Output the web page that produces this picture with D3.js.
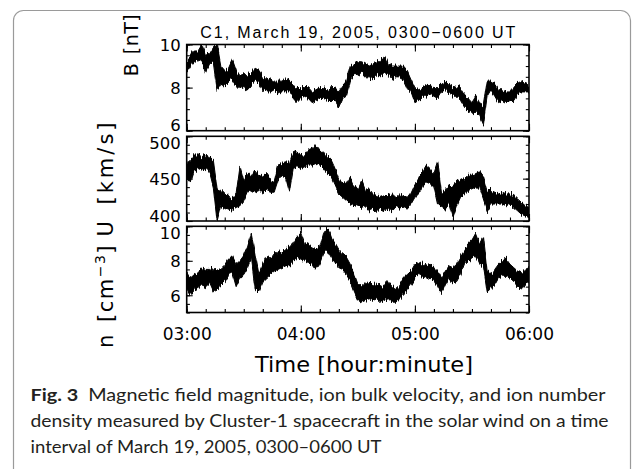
<!DOCTYPE html>
<html>
<head>
<meta charset="utf-8">
<script src="https://cdn.jsdelivr.net/npm/d3@7"></script>
<style>
  html, body { margin: 0; padding: 0; background: #fff; }
  svg { display: block; }
</style>
</head>
<body>
<svg id="chart" width="637" height="469"></svg>
<script>
// Cluster-1 solar wind, 19 March 2005, 03:00-06:00 UT.
// Each series is given as the lower / upper edge of the fluctuation band,
// one pair every 2 minutes from 03:00 to 06:00.
const sampleStepMin = 2;

const hourLabels = ["03:00", "04:00", "05:00", "06:00"];

// |B| [nT]
const bLo = [8.7,9.0,9.2,9.3,9.2,8.7,9.1,9.2,7.9,8.2,8.1,8.3,8.4,8.1,7.9,8.0,7.9,8.1,8.3,8.2,
             7.9,7.8,7.8,7.9,7.7,7.8,7.8,7.8,7.5,7.3,7.5,7.6,7.5,7.3,7.4,7.5,7.5,7.4,7.4,7.4,
             7.1,7.5,7.6,8.3,8.6,8.6,8.7,8.5,8.5,8.4,8.6,8.6,8.7,8.6,8.4,8.5,8.5,8.4,8.0,7.8,
             7.3,7.4,7.6,7.6,7.7,7.6,7.5,7.8,7.9,7.7,7.6,7.6,7.4,7.1,6.9,6.8,6.9,6.7,6.3,7.6,
             7.9,7.6,7.3,7.4,7.3,7.4,7.4,7.7,7.8,7.8,7.8];
const bHi = [9.2,9.5,9.7,9.7,10.0,9.5,9.6,9.9,10.0,9.0,8.8,8.9,9.3,8.8,8.5,8.6,8.6,8.7,8.9,8.8,
             8.5,8.3,8.4,8.3,8.3,8.3,8.4,8.3,8.1,8.0,8.0,8.0,8.0,7.8,7.9,8.0,8.0,7.9,8.0,8.0,
             7.8,8.1,8.3,9.0,9.1,9.2,9.2,9.1,9.0,9.1,9.2,9.2,9.5,9.1,9.0,9.0,9.0,9.0,8.8,8.4,
             8.0,7.9,8.0,8.1,8.1,8.0,8.0,8.2,8.3,8.1,8.0,8.1,8.0,7.7,7.5,7.3,7.6,7.3,7.2,8.3,
             8.3,8.2,7.9,7.9,7.8,7.8,8.0,8.2,8.3,8.2,8.1];

// U [km/s]
const uLo = [452,446,460,462,460,462,458,440,400,418,416,414,413,416,418,424,434,436,434,436,
             432,436,434,434,448,454,452,434,462,464,462,464,466,466,468,466,462,456,452,442,
             432,428,424,420,418,420,416,418,412,414,410,414,412,414,412,416,414,416,414,420,
             428,432,440,446,444,440,420,416,414,420,404,418,428,432,436,438,440,440,426,412,
             420,420,420,420,418,420,416,412,408,406,404];
const uHi = [468,472,478,478,476,478,476,472,438,436,432,428,426,432,465,448,456,452,460,454,
             452,456,450,448,466,468,470,468,482,480,478,478,484,486,490,484,480,476,472,462,
             450,446,444,452,440,438,448,436,438,432,430,428,430,430,432,428,432,430,428,434,
             444,450,458,466,462,456,470,434,436,442,440,446,448,450,454,454,456,458,452,436,
             436,434,432,434,432,432,430,426,422,418,416];

// n [cm^-3]
const nLo = [6.4,6.0,6.3,6.4,6.6,6.5,6.7,6.2,6.3,6.6,6.8,7.2,7.3,6.5,7.0,7.2,7.6,8.2,6.4,6.2,
             6.8,7.0,7.2,7.4,7.5,7.6,7.7,7.7,8.0,8.2,8.1,8.0,7.9,7.8,7.5,7.8,8.4,8.6,8.2,7.9,
             7.6,7.5,7.2,6.8,6.2,5.7,5.6,5.7,5.8,5.7,5.8,5.6,5.7,5.8,5.6,5.6,5.8,6.0,6.3,6.6,
             7.0,7.2,7.1,7.0,7.1,6.9,6.5,6.1,6.6,7.0,6.7,6.8,7.2,7.8,8.0,8.1,8.3,7.8,7.7,6.2,
             6.4,6.6,7.0,7.1,7.1,7.0,6.8,6.5,6.3,6.7,6.8];
const nHi = [7.3,7.0,7.2,7.3,7.6,7.5,7.5,7.6,7.4,7.5,7.7,8.1,8.3,7.8,8.0,8.3,8.8,9.6,8.4,7.2,
             7.8,8.2,8.1,8.4,8.6,8.5,8.7,8.8,9.0,9.4,9.6,9.0,8.9,8.8,8.7,8.8,9.6,9.9,9.4,9.0,
             8.6,8.4,8.2,7.8,7.2,6.6,6.5,6.7,6.8,6.6,6.7,6.5,6.6,6.8,6.5,6.4,6.6,7.0,7.2,7.4,
             7.8,7.9,7.8,7.7,7.8,7.6,7.4,7.0,7.4,7.7,7.6,7.8,8.2,8.6,9.0,9.2,9.6,9.0,9.4,7.4,
             7.2,7.5,7.8,8.0,8.1,7.8,7.6,7.4,7.3,7.5,7.6];

const panels = [
  { lo: bLo, hi: bHi, domain: [6, 10],    major: [6, 8, 10],       minorStep: 0.5,
    top: 44.5,  bottom: 130.7, nudge: { 6: -6.5 } },
  { lo: uLo, hi: uHi, domain: [400, 500], major: [400, 450, 500],  minorStep: 10,
    top: 136.3, bottom: 221,   nudge: { 500: 6.5, 400: -5 } },
  { lo: nLo, hi: nHi, domain: [5, 10],    major: [6, 8, 10],       minorStep: 0.5,
    top: 226.3, bottom: 312.5, nudge: { 10: 6 } }
];

const svg = d3.select("#chart");
const left = 186.7, right = 529;
const ink = "#000";
const tickFont = "DejaVu Sans, sans-serif";

// fine vertical jitter that gives the band its sample-to-sample roughness
const defs = svg.append("defs");
const jitter = defs.append("filter").attr("id", "jitter")
  .attr("x", "-2%").attr("y", "-30%").attr("width", "104%").attr("height", "160%");
jitter.append("feTurbulence")
  .attr("type", "fractalNoise").attr("baseFrequency", "0.8 0.03")
  .attr("numOctaves", 2).attr("seed", 7).attr("result", "noise");
jitter.append("feColorMatrix").attr("in", "noise").attr("type", "matrix")
  .attr("values", "0 0 0 0 0.5  0 1 0 0 0  0 0 0 0 0  0 0 0 0 1")
  .attr("result", "disp");
jitter.append("feDisplacementMap")
  .attr("in", "SourceGraphic").attr("in2", "disp")
  .attr("scale", 9).attr("xChannelSelector", "R").attr("yChannelSelector", "G");

// outer card
svg.append("rect")
  .attr("x", 13.5).attr("y", 10.5)
  .attr("width", 617).attr("height", 480)
  .attr("rx", 10)
  .attr("fill", "#fff").attr("stroke", "#9a9a9a").attr("stroke-width", 1.2);

// time in minutes after 03:00
const x = d3.scaleLinear().domain([0, 180]).range([left, right]);
const minorTimes = d3.range(0, 181, 10);
const hourTimes = [0, 60, 120, 180];

panels.forEach((p, pi) => {
  const y = d3.scaleLinear().domain(p.domain).range([p.bottom, p.top]);
  const g = svg.append("g");
  const data = p.lo.map((v, i) => ({ t: i * sampleStepMin, lo: v, hi: p.hi[i] }));

  defs.append("clipPath").attr("id", "clip" + pi)
    .append("rect").attr("x", left).attr("y", p.top)
    .attr("width", right - left).attr("height", p.bottom - p.top);

  const area = d3.area()
    .x(d => x(d.t)).y0(d => y(d.lo)).y1(d => y(d.hi));

  g.append("g").attr("clip-path", `url(#clip${pi})`)
    .append("path")
    .datum(data)
    .attr("filter", "url(#jitter)")
    .attr("d", area)
    .attr("fill", ink).attr("stroke", ink)
    .attr("stroke-width", 1).attr("stroke-linejoin", "miter");

  const minorVals = d3.range(p.domain[0], p.domain[1] + 1e-9, p.minorStep);

  // y ticks on both sides, pointing inward
  g.append("g").attr("transform", `translate(${left},0)`)
    .call(d3.axisLeft(y).tickValues(minorVals).tickSize(-3.2).tickFormat(""));
  g.append("g").attr("transform", `translate(${right},0)`)
    .call(d3.axisRight(y).tickValues(minorVals).tickSize(-3.2).tickFormat(""));
  const ylab = g.append("g").attr("transform", `translate(${left},0)`)
    .call(d3.axisLeft(y).tickValues(p.major).tickSize(-6).tickPadding(6)
      .tickFormat(d3.format("d")));
  g.append("g").attr("transform", `translate(${right},0)`)
    .call(d3.axisRight(y).tickValues(p.major).tickSize(-6).tickFormat(""));

  ylab.selectAll("text")
    .attr("font-family", tickFont).attr("font-size", 16.5).attr("fill", ink)
    .attr("dy", "0.36em")
    .attr("transform", d => `translate(0,${p.nudge[d] || 0})`);

  // x ticks on top and bottom, pointing inward
  g.append("g").attr("transform", `translate(0,${p.bottom})`)
    .call(d3.axisBottom(x).tickValues(minorTimes).tickSize(-3.5).tickFormat(""));
  g.append("g").attr("transform", `translate(0,${p.top})`)
    .call(d3.axisTop(x).tickValues(minorTimes).tickSize(-3.5).tickFormat(""));
  g.append("g").attr("transform", `translate(0,${p.bottom})`)
    .call(d3.axisBottom(x).tickValues(hourTimes).tickSize(-7).tickFormat(""));
  g.append("g").attr("transform", `translate(0,${p.top})`)
    .call(d3.axisTop(x).tickValues(hourTimes).tickSize(-7).tickFormat(""));

  g.selectAll(".domain").remove();
  g.selectAll(".tick line").attr("stroke", ink).attr("stroke-width", 1.1);

  // frame
  g.append("rect")
    .attr("x", left).attr("y", p.top)
    .attr("width", right - left).attr("height", p.bottom - p.top)
    .attr("fill", "none").attr("stroke", ink).attr("stroke-width", 1.6);

  // hour labels under the last panel
  if (pi === panels.length - 1) {
    const xa = g.append("g").attr("transform", `translate(0,${p.bottom})`)
      .call(d3.axisBottom(x).tickValues(hourTimes).tickSize(0).tickPadding(15)
        .tickFormat((d, i) => hourLabels[i]));
    xa.select(".domain").remove();
    xa.selectAll("text")
      .attr("font-family", tickFont).attr("font-size", 17).attr("fill", ink);
  }
});

// title
svg.append("text")
  .attr("x", (left + right) / 2).attr("y", 38)
  .attr("text-anchor", "middle")
  .attr("font-family", "Liberation Sans, Arial, sans-serif")
  .attr("font-size", 16)
  .attr("textLength", 315).attr("lengthAdjust", "spacing")
  .attr("fill", ink)
  .text("C1, March 19, 2005, 0300\u22120600 UT");

// x axis title
svg.append("text")
  .attr("x", 364).attr("y", 372)
  .attr("text-anchor", "middle")
  .attr("font-family", tickFont).attr("font-size", 21)
  .attr("textLength", 218).attr("lengthAdjust", "spacingAndGlyphs")
  .attr("fill", ink)
  .text("Time [hour:minute]");

// y axis titles (rotated, reading upward)
function yTitle(bx, cy, size, spacing, wordGap, parts) {
  const t = svg.append("text")
    .attr("transform", `translate(${bx},${cy}) rotate(-90)`)
    .attr("text-anchor", "middle")
    .attr("font-family", tickFont).attr("font-size", size)
    .attr("letter-spacing", spacing).attr("word-spacing", wordGap)
    .attr("fill", ink);
  parts.forEach(pt => {
    const s = t.append("tspan").text(pt.text);
    if (pt.sup) s.attr("dy", -8).attr("font-size", 14);
    if (pt.after) s.attr("dy", 8);
  });
}
yTitle(138, 45, 19, 0.5, 2, [{ text: "B [nT]" }]);
yTitle(112.5, 178, 21, 3, 4, [{ text: "U [km/s]" }]);
yTitle(112.5, 296, 21, 1.5, 3, [{ text: "n [cm" }, { text: "\u22123", sup: true }, { text: "]", after: true }]);

// caption
const capFont = "Lato, 'Open Sans', sans-serif";
const capInk = "#231f20";
const cap1 = svg.append("text").attr("x", 30.5).attr("y", 401)
  .attr("font-family", capFont).attr("font-size", 17).attr("fill", capInk)
  .attr("textLength", 575).attr("lengthAdjust", "spacingAndGlyphs");
cap1.append("tspan").attr("font-weight", "bold").text("Fig. 3");
cap1.append("tspan").text("\u2002Magnetic field magnitude, ion bulk velocity, and ion number");
svg.append("text").attr("x", 30.5).attr("y", 427)
  .attr("font-family", capFont).attr("font-size", 17).attr("fill", capInk)
  .attr("textLength", 578).attr("lengthAdjust", "spacingAndGlyphs")
  .text("density measured by Cluster-1 spacecraft in the solar wind on a time");
svg.append("text").attr("x", 30.5).attr("y", 453)
  .attr("font-family", capFont).attr("font-size", 17).attr("fill", capInk)
  .attr("textLength", 351).attr("lengthAdjust", "spacingAndGlyphs")
  .text("interval of March 19, 2005, 0300\u20130600 UT");
</script>
</body>
</html>
